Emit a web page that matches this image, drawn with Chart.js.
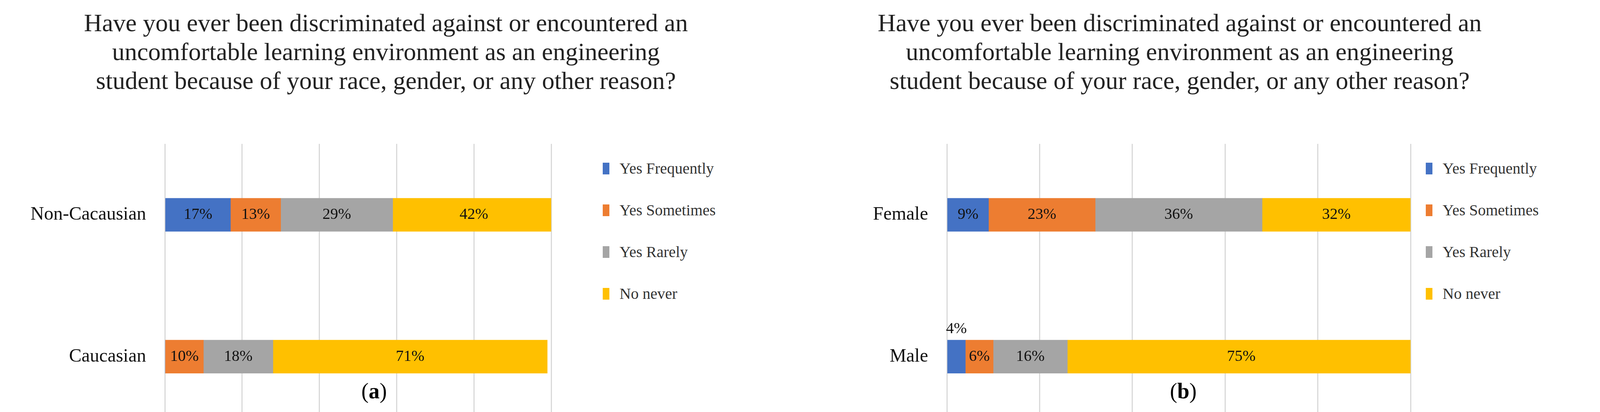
<!DOCTYPE html>
<html><head><meta charset="utf-8">
<script src="https://cdn.jsdelivr.net/npm/chart.js@4"></script>
<style>
body{margin:0;width:4165px;height:1056px;background:#fff;position:relative;font-family:"Liberation Serif",serif;overflow:hidden}
.t{position:absolute;text-align:center;font-size:64px;line-height:74px;color:#222;width:1700px}
.cap{position:absolute;font-size:56px;color:#000}
.lg{position:absolute;font-size:40px;color:#333}
.lg div{height:107px;display:flex;align-items:center}
.lg span{display:inline-block;width:17px;height:30px;margin-right:26px}
canvas{position:absolute}
</style></head><body>
<div class="t" style="left:138px;top:22px">Have you ever been discriminated against or encountered an<br>uncomfortable learning environment as an engineering<br>student because of your race, gender, or any other reason?</div>
<div class="t" style="left:2170px;top:22px">Have you ever been discriminated against or encountered an<br>uncomfortable learning environment as an engineering<br>student because of your race, gender, or any other reason?</div>
<div class="cap" style="left:925px;top:970px">(<b>a</b>)</div>
<div class="cap" style="left:2995px;top:970px">(<b>b</b>)</div>
<div class="lg" id="lga" style="left:1543px;top:378px"></div>
<div class="lg" id="lgb" style="left:3650px;top:378px"></div>
<canvas id="ca" width="1500" height="910" style="left:0;top:300px;width:1500px;height:910px"></canvas>
<canvas id="cb" width="1700" height="910" style="left:2000px;top:300px;width:1700px;height:910px"></canvas>
<script>
const seriesNames=["Yes Frequently","Yes Sometimes","Yes Rarely","No never"];
const colors=["#4472c4","#ed7d31","#a5a5a5","#ffc000"];
const catsA=["Non-Cacausian","Caucasian"];
const yesFreqA=[17,0],yesSomeA=[13,10],yesRareA=[29,18],noNeverA=[42,71];
const catsB=["Female","Male"];
const yesFreqB=[9,4],yesSomeB=[23,6],yesRareB=[36,16],noNeverB=[32,75];
const xTicks=[0,20,40,60,80,100];

for(const id of ["lga","lgb"]){
  document.getElementById(id).innerHTML=seriesNames.map((n,i)=>`<div><span style="background:${colors[i]}"></span>${n}</div>`).join("");
}
const labelPlugin={id:"vals",afterDatasetsDraw(ch){
  const c=ch.ctx;c.save();c.font="40px 'Liberation Serif'";c.fillStyle="#111";c.textAlign="center";c.textBaseline="middle";
  ch.data.datasets.forEach((ds,i)=>{ch.getDatasetMeta(i).data.forEach((el,j)=>{
    const v=ds.data[j];if(!v)return;
    const x=(el.x+el.base)/2;
    if(v<5){c.fillText(v+"%",x,el.y-el.height/2-28);}else c.fillText(v+"%",x,el.y);
  });});c.restore();}};
function make(id,cats,vals,yw){
  new Chart(document.getElementById(id),{type:"bar",
    data:{labels:cats,datasets:vals.map((d,i)=>({label:seriesNames[i],data:d,backgroundColor:colors[i],barThickness:85}))},
    options:{indexAxis:"y",responsive:false,devicePixelRatio:1,animation:false,
      layout:{padding:{top:34,right:64}},
      plugins:{legend:{display:false},tooltip:{enabled:false}},
      scales:{
        x:{stacked:true,min:0,max:100,afterBuildTicks(s){s.ticks=xTicks.map(v=>({value:v}));},
          ticks:{callback:v=>v+"%",font:{size:42,family:"Liberation Serif"},color:"#333",padding:40},
          grid:{color:"#d9d9d9",lineWidth:3,drawTicks:false},border:{display:false},
          afterFit(s){s.height=114;}},
        y:{stacked:true,ticks:{font:{size:48,family:"Liberation Serif"},color:"#111",padding:40},
          grid:{display:false},border:{display:false},afterFit(s){s.width=yw;}}
      }},plugins:[labelPlugin]});
}
make("ca",catsA,[yesFreqA,yesSomeA,yesRareA,noNeverA],422);
make("cb",catsB,[yesFreqB,yesSomeB,yesRareB,noNeverB],424);
</script></body></html>
